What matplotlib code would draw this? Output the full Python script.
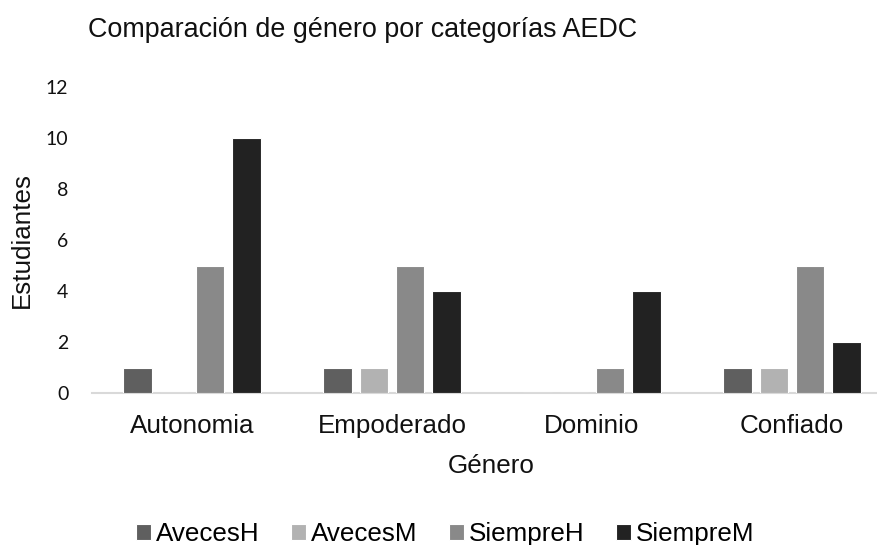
import matplotlib

matplotlib.use("Agg")

import matplotlib.pyplot as plt  # noqa: E402
import numpy as np  # noqa: E402

# ── Data ──────────────────────────────────────────────────
categories = ["Autonomia", "Empoderado", "Dominio", "Confiado"]
series_names = ["AvecesH", "AvecesM", "SiempreH", "SiempreM"]
aveces_h = [1, 1, 0, 1]
aveces_m = [0, 1, 0, 1]
siempre_h = [5, 5, 1, 5]
siempre_m = [10, 4, 4, 2]
y_ticks = [0, 2, 4, 6, 8, 10, 12]

colors = ["#5f5f5f", "#b2b2b2", "#898989", "#222222"]
TEXT_FONT = "Liberation Sans"
TICK_FONT = "Lato"

W, H = 878, 545
fig = plt.figure(figsize=(W / 100, H / 100), dpi=100)
fig.patch.set_facecolor("white")

# plot area in pixel coordinates: left 92, right 878, top 87, bottom 393
ax = fig.add_axes([92 / W, 1 - 393 / H, (878 - 92) / W, (393 - 87) / H])

x = np.arange(len(categories))
pitch = 0.181
width = 0.1425
values = [aveces_h, aveces_m, siempre_h, siempre_m]
for i, (name, vals) in enumerate(zip(series_names, values)):
    ax.bar(
        x + (i - 1.5) * pitch,
        vals,
        width=width,
        color=colors[i],
        edgecolor="white",
        linewidth=0.8,
        label=name,
        zorder=3,
    )

ax.set_xlim(-0.5, 3.43)
ax.set_ylim(0, 12)
ax.set_yticks(y_ticks)
ax.set_yticklabels([str(t) for t in y_ticks], fontsize=14, family=TICK_FONT, color="#111111")
ax.set_xticks(x)
ax.set_xticklabels(categories, fontsize=18.7, family=TEXT_FONT, color="#111111")
ax.tick_params(axis="x", length=0, pad=15)
ax.tick_params(axis="y", length=0, pad=17)

for side in ["top", "right", "left"]:
    ax.spines[side].set_visible(False)
ax.spines["bottom"].set_color("#d9d9d9")
ax.spines["bottom"].set_linewidth(1.5)

# ── Titles / labels ───────────────────────────────────────
fig.text(
    88 / W, 1 - 37 / H,
    "Comparación de género por categorías AEDC",
    fontsize=19.4, family=TEXT_FONT, color="#111111", ha="left", va="baseline",
)
fig.text(
    22 / W, 1 - 240 / H, "Estudiantes",
    fontsize=18.7, family=TEXT_FONT, color="#111111", rotation=90, ha="center", va="center",
)
fig.text(
    491 / W, 1 - 473 / H, "Género",
    fontsize=18.7, family=TEXT_FONT, color="#111111", ha="center", va="baseline",
)

# ── Legend ────────────────────────────────────────────────
handles, labels = ax.get_legend_handles_labels()
fig.legend(
    handles,
    labels,
    loc="center",
    bbox_to_anchor=(445 / W, 1 - 534 / H),
    ncol=4,
    frameon=False,
    prop={"family": TEXT_FONT, "size": 18.7},
    handlelength=0.58,
    handleheight=0.58,
    handletextpad=0.2,
    columnspacing=1.2,
    borderpad=0,
    borderaxespad=0,
)

fig.savefig("out.png", dpi=100, facecolor=fig.get_facecolor())
plt.close(fig)
